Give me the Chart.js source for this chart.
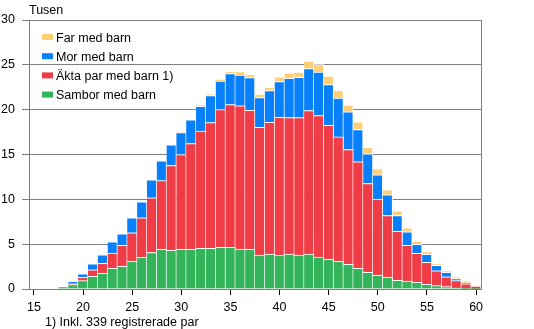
<!DOCTYPE html>
<html lang="sv">
<head>
    <meta charset="UTF-8">
    <title>Familjer med barn efter ålder</title>
    <script src="https://cdn.jsdelivr.net/npm/chart.js"></script>
    <style>
        body {
            margin: 0;
            background: #fff;
        }
        #wrap {
            width: 534px;
            height: 329px;
        }
    </style>
</head>
<body>
    <div id="wrap">
        <canvas id="familyChart" width="534" height="329"></canvas>
    </div>

    <script>
        // Age of the parent, 15-60
        const ages = [];
        for (let a = 15; a <= 60; a++) ages.push(a);

        // Families with children, thousands
        const samborMedBarn = [0, 0, 0, 0.26, 0.48, 0.93, 1.41, 1.75, 2.30, 2.53, 3.08, 3.53, 4.07,
            4.42, 4.31, 4.42, 4.42, 4.53, 4.53, 4.64, 4.64, 4.45, 4.42,
            3.79, 3.90, 3.79, 3.90, 3.79, 3.90, 3.56, 3.30, 3.08, 2.75,
            2.30, 1.86, 1.52, 1.30, 0.97, 0.89, 0.75, 0.52, 0.37, 0.26,
            0.10, 0.05, 0.02];
        const aktaParMedBarn = [0, 0, 0, 0, 0.10, 0.37, 0.74, 1.11, 1.70, 2.34, 3.19, 4.41, 6.10,
            7.66, 9.46, 10.58, 11.80, 13.07, 14.03, 15.37, 15.93, 15.98, 15.51,
            14.25, 14.70, 15.36, 15.22, 15.33, 16.00, 15.78, 14.96, 13.88, 12.81,
            11.88, 9.91, 8.50, 6.90, 5.46, 3.98, 3.23, 2.45, 1.67, 1.11,
            0.83, 0.54, 0.31];
        const morMedBarn = [0, 0, 0, 0, 0.28, 0.40, 0.67, 0.96, 1.27, 1.29, 1.67, 1.78, 2.00,
            2.21, 2.30, 2.45, 2.64, 2.78, 3.01, 3.19, 3.45, 3.44, 3.64,
            3.31, 3.53, 3.98, 4.38, 4.49, 4.68, 4.86, 4.54, 4.34, 4.19,
            3.60, 3.30, 2.71, 2.30, 1.77, 1.51, 1.00, 0.89, 0.60, 0.49,
            0.22, 0.10, 0];
        const farMedBarn = [0, 0, 0, 0, 0, 0, 0, 0, 0, 0, 0, 0, 0,
            0, 0, 0.11, 0, 0.14, 0.18, 0.19, 0.26, 0.39, 0.37,
            0.40, 0.37, 0.52, 0.59, 0.59, 0.85, 0.82, 0.95, 0.86, 0.77,
            0.85, 0.74, 0.67, 0.56, 0.52, 0.45, 0.37, 0.30, 0.18, 0.18,
            0.19, 0.20, 0];

        const yTicks = [0, 5, 10, 15, 20, 25, 30];

        const FONT = '"Liberation Sans", Arial, sans-serif';
        const GRID = '#808080';

        // Legend, unit label, footnote and right frame line
        const extras = {
            id: 'extras',
            afterDraw(chart) {
                const ctx = chart.ctx;
                const area = chart.chartArea;
                ctx.save();

                ctx.strokeStyle = GRID;
                ctx.lineWidth = 1;
                ctx.beginPath();
                ctx.moveTo(Math.round(area.right) + 0.5, area.top);
                ctx.lineTo(Math.round(area.right) + 0.5, area.bottom);
                ctx.stroke();

                ctx.font = '12.5px ' + FONT;
                ctx.fillStyle = '#000';
                ctx.textBaseline = 'alphabetic';
                ctx.textAlign = 'left';
                ctx.fillText('Tusen', 29, 14);
                ctx.fillText('1) Inkl. 339 registrerade par', 45, 326);

                const sets = chart.data.datasets.slice().reverse();
                sets.forEach((ds, i) => {
                    const base = 41.5 + i * 19.2;
                    ctx.fillStyle = ds.backgroundColor;
                    ctx.fillRect(42, base - 7.5, 11, 6);
                    ctx.fillStyle = '#000';
                    ctx.fillText(ds.label, 56, base);
                });
                ctx.restore();
            }
        };

        const ctx = document.getElementById('familyChart').getContext('2d');
        new Chart(ctx, {
            type: 'bar',
            data: {
                labels: ages,
                datasets: [
                    { label: 'Sambor med barn', data: samborMedBarn, backgroundColor: '#33b35a' },
                    { label: 'Äkta par med barn 1)', data: aktaParMedBarn, backgroundColor: '#f03c46' },
                    { label: 'Mor med barn', data: morMedBarn, backgroundColor: '#0880fb' },
                    { label: 'Far med barn', data: farMedBarn, backgroundColor: '#ffcf76' }
                ].map(ds => Object.assign(ds, {
                    borderColor: '#ffffff',
                    borderWidth: { top: 1, right: 1, left: 0, bottom: 0 },
                    borderSkipped: false,
                    barPercentage: 1,
                    categoryPercentage: 1
                }))
            },
            options: {
                responsive: false,
                animation: false,
                layout: {
                    padding: { top: 20, right: 53, left: 0, bottom: 0 }
                },
                plugins: {
                    legend: { display: false },
                    tooltip: { enabled: false }
                },
                scales: {
                    x: {
                        stacked: true,
                        offset: true,
                        afterFit(scale) { scale.height = 40; },
                        grid: {
                            offset: false,
                            drawOnChartArea: false,
                            drawTicks: true,
                            tickLength: 6,
                            color: '#000'
                        },
                        border: { color: GRID },
                        ticks: {
                            autoSkip: false,
                            maxRotation: 0,
                            padding: 5,
                            color: '#000',
                            font: { family: FONT, size: 12.5 },
                            callback(value) {
                                const age = ages[value];
                                return age % 5 === 0 ? String(age) : null;
                            }
                        }
                    },
                    y: {
                        stacked: true,
                        min: 0,
                        max: 30,
                        afterFit(scale) { scale.width = 29; },
                        afterBuildTicks(scale) {
                            scale.ticks = yTicks.map(v => ({ value: v }));
                        },
                        grid: {
                            color: GRID,
                            tickLength: 7
                        },
                        border: { color: GRID },
                        ticks: {
                            padding: 7,
                            color: '#000',
                            font: { family: FONT, size: 12.5 }
                        }
                    }
                }
            },
            plugins: [extras]
        });
    </script>
</body>
</html>
